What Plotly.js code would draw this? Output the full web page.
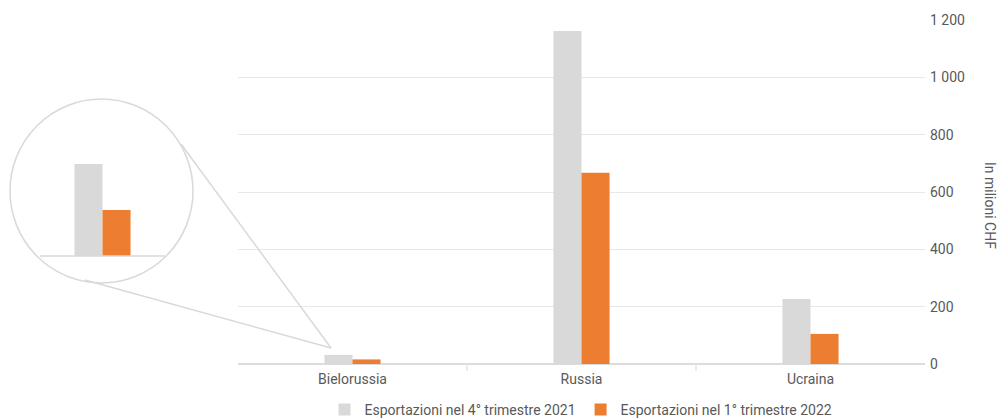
<!DOCTYPE html>
<html>
<head>
<meta charset="utf-8">
<script src="https://cdn.plot.ly/plotly-3.0.1.min.js"></script>
<style>html,body{margin:0;padding:0;background:#fff;}#chart{width:1000px;height:418px;}</style>
</head>
<body>
<div id="chart"></div>
<script>
var categories = ["Bielorussia", "Russia", "Ucraina"];
var series2021 = [32, 1162, 227];
var series2022 = [16, 667, 105];
var seriesNames = ["Esportazioni nel 4° trimestre 2021", "Esportazioni nel 1° trimestre 2022"];
var insetCategory = ["Bielorussia"];
var yTicks = [0, 200, 400, 600, 800, 1000, 1200];
var yTickLabels = ["0", "200", "400", "600", "800", "1 000", "1 200"];
var categoryBoundaries = [0.5, 1.5];

var grey = "#d9d9d9", orange = "#ed7d31", lineCol = "#d9d9d9", txt = "#595959";
var W = 1000, H = 418;
function px(x){return x/W;}
function py(y){return (H-y)/H;}

var traces = [
  {type:"bar", x:categories, y:series2021, name:seriesNames[0], marker:{color:grey}, xaxis:"x", yaxis:"y", hoverinfo:"y"},
  {type:"bar", x:categories, y:series2022, name:seriesNames[1], marker:{color:orange}, xaxis:"x", yaxis:"y", hoverinfo:"y"},
  {type:"bar", x:insetCategory, y:[series2021[0]], marker:{color:grey}, xaxis:"x2", yaxis:"y2", showlegend:false, hoverinfo:"y"},
  {type:"bar", x:insetCategory, y:[series2022[0]], marker:{color:orange}, xaxis:"x2", yaxis:"y2", showlegend:false, hoverinfo:"y"}
];

var shapes = [
  {type:"circle", xref:"paper", yref:"paper", x0:px(10), x1:px(193), y0:py(283), y1:py(99), line:{color:lineCol, width:1.5}},
  {type:"line", xref:"paper", yref:"paper", x0:px(40), x1:px(165), y0:py(256), y1:py(256), line:{color:lineCol, width:1.5}},
  {type:"line", xref:"paper", yref:"paper", x0:px(181), x1:px(331), y0:py(144), y1:py(348), line:{color:lineCol, width:1.5}},
  {type:"line", xref:"paper", yref:"paper", x0:px(85), x1:px(331), y0:py(280), y1:py(348), line:{color:lineCol, width:1.5}}
];
categoryBoundaries.forEach(function(b){
  shapes.push({type:"line", xref:"x", yref:"paper", x0:b, x1:b, y0:py(364), y1:py(371), line:{color:"#e6e6e6", width:1.5}});
});

var insetHalf = 102.5/229;
var layout = {
  width:W, height:H,
  margin:{l:0,r:0,t:0,b:0, autoexpand:false},
  paper_bgcolor:"#fff", plot_bgcolor:"rgba(0,0,0,0)",
  font:{family:"Roboto, sans-serif", size:14, color:txt},
  separators:", ",
  barmode:"group", bargap:0.755, bargroupgap:0,
  showlegend:true,
  legend:{orientation:"h", x:0.581, xanchor:"center", y:-0.019, yanchor:"bottom", font:{size:14, color:txt}, itemwidth:30, traceorder:"normal"},
  xaxis:{domain:[px(238), px(925)], range:[-0.5, 2.5], type:"category", showgrid:false, zeroline:false, showline:false,
         ticks:"", automargin:false, tickfont:{size:14,color:txt}, ticklabelstandoff:5},
  yaxis:{domain:[py(364), py(20)], range:[0,1200], side:"right", tickvals:yTicks, ticktext:yTickLabels, automargin:false,
         showgrid:true, gridcolor:"#e8e8e8", gridwidth:1, zeroline:true, zerolinecolor:"#dcdcdc", zerolinewidth:1.5,
         showline:false, ticks:"", tickfont:{size:14,color:txt}, ticklabelstandoff:4},
  xaxis2:{domain:[0, px(205)], range:[-insetHalf, insetHalf], type:"category", anchor:"y2", visible:false},
  yaxis2:{domain:[py(256), py(99)], range:[0, 54.6], anchor:"x2", visible:false},
  shapes:shapes,
  annotations:[
    {text:"In milioni CHF", xref:"paper", yref:"paper", x:px(990), y:py(205), textangle:90, showarrow:false, font:{size:14,color:txt}, xanchor:"center", yanchor:"middle"}
  ]
};

Plotly.newPlot("chart", traces, layout, {staticPlot:true, displayModeBar:false});
</script>
</body>
</html>
